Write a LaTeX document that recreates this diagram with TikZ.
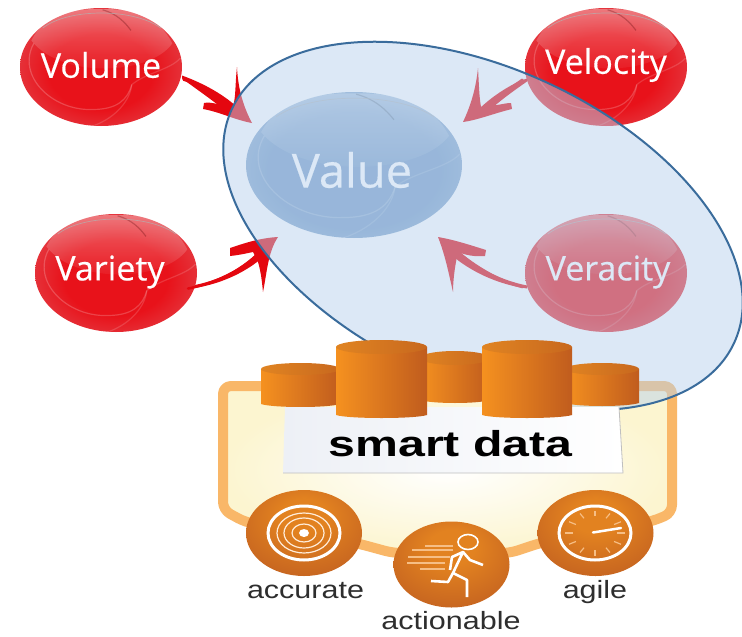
\documentclass[tikz,border=0pt]{standalone}
\usepackage{fontspec}
\usetikzlibrary{shapes.geometric,fadings}
\newfontfamily\ballfont[FakeBold=0.35]{Open Sans}
\newfontfamily\capfont{Liberation Sans}
\definecolor{ballred}{HTML}{E8121A}
\definecolor{ballpink}{HTML}{E2555C}
\definecolor{ballblue}{HTML}{7A9DC8}
\definecolor{ballbluepale}{HTML}{A5BFDB}
\definecolor{arrowred}{HTML}{E4070F}
\definecolor{ovalfill}{HTML}{B8D2ED}
\definecolor{ovalline}{HTML}{3A6C9C}
\definecolor{framecol}{HTML}{F9B768}
\definecolor{framefill}{HTML}{FCF5D0}
\definecolor{cyllight}{HTML}{F5911F}
\definecolor{cyldark}{HTML}{C05C1E}
\definecolor{cyltopl}{HTML}{E08422}
\definecolor{cyltopr}{HTML}{C8681E}
\definecolor{badgelight}{HTML}{E28220}
\definecolor{badgedark}{HTML}{BC5A20}
\definecolor{speedline}{HTML}{F6BE85}
\definecolor{panelleft}{HTML}{EDF0F6}
\pgfdeclareradialshading{redball}{\pgfpoint{0bp}{-3bp}}{color(0bp)=(ballred); color(16bp)=(ballred); color(36bp)=(ballpink); color(53bp)=(ballpink!60!white)}
\pgfdeclareradialshading{blueball}{\pgfpoint{0bp}{-3bp}}{color(0bp)=(ballblue); color(20bp)=(ballblue); color(38bp)=(ballbluepale); color(53bp)=(ballbluepale!60!white)}
\pgfdeclareradialshading{badgeball}{\pgfpoint{0bp}{12bp}}{color(0bp)=(badgelight); color(10bp)=(badgelight); color(40bp)=(badgedark); color(62bp)=(badgedark)}
\tikzset{
  x=1pt,y=-1pt,
  balltext/.style={ellipse,inner sep=0pt,text=white,font=\ballfont\fontsize{34}{36}\selectfont},
  arrowhead/.style={fill=arrowred},
  arrowstem/.style={draw=arrowred,line width=2.5pt,line cap=round},
  badge/.style={shading=badgeball},
  badgeline/.style={draw=white,line width=3pt},
  badgethin/.style={draw=white!85!orange,line width=1.2pt},
  captext/.style={font=\capfont,text=black!82,anchor=base,inner sep=0pt},
}
\newcommand{\glassball}[7]{%
  \shade[shading=#7] (#2,#3) ellipse [x radius=#4,y radius=#5];
  \begin{scope}[shift={(#2,#3)},xscale=#4,yscale=#5]
    \fill[white,fill opacity=.34,path fading=south] (-.86,-.45) .. controls (-.7,-.9) and (-.3,-1) .. (0,-.98) .. controls (.4,-1) and (.72,-.85) .. (.88,-.4) .. controls (.6,.15) and (-.5,.2) .. (-.86,-.45) -- cycle;
    \draw[white,opacity=.2,line width=1.2pt] (-.83,-.4) .. controls (-1.05,.15) and (-.6,.75) .. (-.1,.72) .. controls (.2,.72) and (.33,.55) .. (.38,.3);
    \draw[white,opacity=.15,line width=1.2pt] (-.1,1) .. controls (.2,.85) and (.36,.55) .. (.38,.3) .. controls (.55,.1) and (.85,.05) .. (.98,-.15);
    \draw[black!60!#6,opacity=.3,line width=1.2pt] (.02,-.97) .. controls (.2,-.9) and (.3,-.75) .. (.37,-.62);
    \draw[white!70!black,opacity=.7,line width=.7pt] (-.72,-.66) .. controls (-.4,-1) and (.4,-1) .. (.74,-.66);
  \end{scope}}
\begin{document}
\begin{tikzpicture}
\useasboundingbox (0,0) rectangle (742,637);
\fill[white] (0,0) rectangle (742,637);

% spheres
\glassball{volume}{101}{67}{81}{59}{ballred}{redball}
\glassball{variety}{116}{273}{81}{59}{ballred}{redball}
\glassball{velocity}{606}{67}{81}{59}{ballred}{redball}
\glassball{veracity}{606}{273}{81}{59}{ballred}{redball}
\glassball{value}{354}{165}{108}{73}{ballblue}{blueball}
\node[balltext,minimum width=162pt,minimum height=118pt] (volume) at (101,65) {Volume};
\node[balltext,minimum width=162pt,minimum height=118pt] (variety) at (110,272) {Variety};
\node[balltext,minimum width=162pt,minimum height=118pt] (velocity) at (606,65) {Velocity};
\node[balltext,minimum width=162pt,minimum height=118pt] (veracity) at (608,272) {Veracity};
\node[balltext,minimum width=216pt,minimum height=146pt,font=\ballfont\fontsize{47}{50}\selectfont] (value) at (352,170) {Value};

% arrow tips
\coordinate (tipvol) at (252,123);
\coordinate (tipvar) at (278,237);
\coordinate (tipvel) at (463,122);
\coordinate (tipver) at (438,237);
\coordinate (notchvol) at (226,104);
\coordinate (notchvar) at (256,256);
\coordinate (notchvel) at (487,106);
\coordinate (notchver) at (459,253);

% arrows
\draw[arrowstem] (volume.350) .. controls (195,83) and (212,92) .. (notchvol);
\fill[arrowhead] (182,75.5) .. controls (205,84) and (222,94) .. (236,106) -- (226,111) .. controls (208,97) and (195,88) .. (182,78.5) -- cycle;
\fill[arrowhead] (tipvol) .. controls (244,108) and (238,90) .. (237,67) .. controls (235,85) and (236,97) .. (233,106) -- (218,104) .. controls (212,103) and (208,102) .. (204,103) -- (203,109) .. controls (220,112) and (235,120) .. (tipvol) -- cycle;

\draw[arrowstem] (variety.348) .. controls (220,282) and (240,270) .. (notchvar);
\fill[arrowhead] (tipvar) .. controls (260,238) and (245,243) .. (230,248) -- (230,256) .. controls (240,255) and (248,253) .. (253,252) -- (258,262) .. controls (261,272) and (262,282) .. (263,292) .. controls (267,272) and (268,252) .. (tipvar) -- cycle;
\fill[arrowhead] (195,285) .. controls (225,279) and (245,265) .. (258,252) -- (262,258) .. controls (248,270) and (225,283) .. (195,288) -- cycle;

\draw[arrowstem] (velocity.190) .. controls (512,87) and (498,96) .. (notchvel);
\fill[arrowhead] (527,78.5) .. controls (510,84) and (490,98) .. (478,110) -- (488,112) .. controls (498,102) and (512,92) .. (527,81.5) -- cycle;
\fill[arrowhead] (tipvel) .. controls (471,105) and (476,88) .. (478,68) .. controls (479,85) and (479,95) .. (481,107) -- (497,105) .. controls (503,104) and (507,103) .. (511,103) -- (512,109) .. controls (495,113) and (478,120) .. (tipvel) -- cycle;

\draw[arrowstem] (veracity.190) .. controls (502,282) and (480,270) .. (notchver);
\fill[arrowhead] (527,285.5) .. controls (495,279) and (472,264) .. (458,250) -- (455,258) .. controls (470,270) and (495,284) .. (527,288.5) -- cycle;
\fill[arrowhead] (tipver) .. controls (455,240) and (470,245) .. (486,250) -- (485,256) .. controls (475,257) and (465,255) .. (458,252) .. controls (455,265) and (453,280) .. (453,292) .. controls (448,270) and (445,255) .. (tipver) -- cycle;

% frame
\shadedraw[inner color=white,outer color=framefill,draw=framecol,line width=10pt,rounded corners=8pt,line join=round]
  (223,386) -- (672,386) -- (672,513) -- (653,521) -- (540,543) -- (510,553) -- (393,553) -- (360,544) -- (245,522) -- (223,510) -- cycle;

% translucent oval
\node[ellipse,rotate=-25,minimum width=554pt,minimum height=314pt,inner sep=0pt,fill=ovalfill,fill opacity=.49,draw=ovalline,line width=2pt] (oval) at (483,226) {};

% cylinders
\newcommand{\cylinder}[5]{% left right topy bottomy ry
  \shade[left color=cyllight,right color=cyldark] (#1,#3) -- (#2,#3) -- (#2,#4-3) .. controls (#2-12,#4+1) and (#1+12,#4+1) .. (#1,#4-3) -- cycle;
  \shade[left color=cyltopl,right color=cyltopr] ({(#1+#2)/2},#3) ellipse [x radius={(#2-#1)/2},y radius=#5];
}
\cylinder{261}{340}{369}{407}{6}
\cylinder{420}{490}{358}{403}{7}
\cylinder{565}{639}{369}{406}{6}
% panel
\shade[left color=panelleft,right color=white] (285,407) -- (619,407) -- (623,473) -- (283,473) -- cycle;
\draw[black!25,line width=.8pt] (283,473) -- (623,473) -- (619,407);
\cylinder{336}{427}{347}{418}{7}
\cylinder{482}{572}{347}{418}{7}
\node[captext,font=\capfont\bfseries\fontsize{36}{38}\selectfont,text=black] (smart) at (450.5,456) {\scalebox{1.34}[1]{smart data}};

% badges
\shade[badge] (304,533) ellipse [x radius=58,y radius=43];
\shade[badge] (595.5,533) ellipse [x radius=58,y radius=43];
\shade[badge] (451.5,564.5) ellipse [x radius=58,y radius=43];

% target icon
\draw[badgeline] (304,533) ellipse [x radius=36,y radius=27];
\draw[badgethin] (304,533) ellipse [x radius=27,y radius=20];
\draw[badgethin] (304,533) ellipse [x radius=20,y radius=15];
\draw[badgethin] (304,533) ellipse [x radius=12,y radius=9];
\fill[white] (304,533) ellipse [x radius=5,y radius=4];

% gauge icon
\draw[badgeline] (595,533) ellipse [x radius=36,y radius=27];
\foreach \a in {0,30,...,330}{
  \draw[draw=speedline,line width=1.2pt] ({595+22*cos(\a)},{533+17*sin(\a)}) -- ({595+30*cos(\a)},{533+22.5*sin(\a)});
}
\draw[white,line width=2.5pt,line cap=round] (593,532.5) -- (621,528);

% runner icon
\draw[white,line width=1.6pt] (468,542) ellipse [x radius=10,y radius=7.5];
\draw[white,line width=2.6pt,line join=round] (450,570) -- (452,557) -- (463,552) -- (453,573) -- (467,580) -- (467,597);
\draw[white,line width=2.6pt,line join=round] (463,552) -- (470,560) -- (483,565);
\draw[white,line width=2.6pt,line join=round] (453,573) -- (448,582) -- (431,581);
\foreach \ya/\xa/\xb in {546/425/453,550/412/453,557/408/450,563/407/445,569/420/445}{
  \draw[speedline,line width=1.3pt] (\xa,\ya) -- (\xb,\ya);
}

% captions
\node[captext,font=\capfont\fontsize{25}{27}\selectfont] (accurate) at (305.5,598) {\scalebox{1.22}[1]{accurate}};
\node[captext,font=\capfont\fontsize{25}{27}\selectfont] (agile) at (595,598) {\scalebox{1.22}[1]{agile}};
\node[captext,font=\capfont\fontsize{25}{27}\selectfont] (actionable) at (451,629) {\scalebox{1.22}[1]{actionable}};
\end{tikzpicture}
\end{document}
